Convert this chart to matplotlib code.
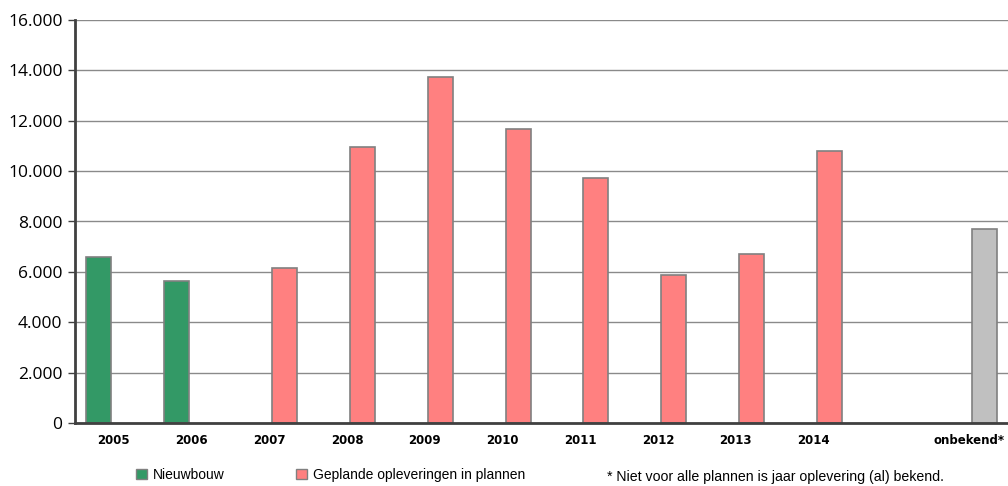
import numpy as np
import matplotlib.pyplot as plt
from matplotlib.patches import Patch

# categories along the x axis (one empty slot before "onbekend*")
categories = ['2005', '2006', '2007', '2008', '2009', '2010', '2011',
              '2012', '2013', '2014', '', 'onbekend*']
nieuwbouw = [6600, 5640, np.nan, np.nan, np.nan, np.nan, np.nan,
             np.nan, np.nan, np.nan, np.nan, np.nan]
gepland = [np.nan, np.nan, 6170, 10970, 13740, 11680, 9740,
           5870, 6700, 10810, np.nan, 7720]
gepland_colors = ['#FF8080'] * 11 + ['#C0C0C0']

green = '#339966'
edge = '#808080'

fig = plt.figure(figsize=(10.08, 4.86), dpi=100)
ax = fig.add_axes([75 / 1008, 1 - 423 / 486, 1 - 75 / 1008, 403 / 486])

x = np.arange(len(categories))
w = 0.32
ax.bar(x - 0.2, nieuwbouw, width=w, color=green, edgecolor=edge, linewidth=1.2, zorder=3)
ax.bar(x + 0.2, gepland, width=w, color=gepland_colors, edgecolor=edge, linewidth=1.2, zorder=3)

ax.set_xlim(-0.5, len(categories) - 0.5)
ax.set_ylim(0, 16000)
ax.set_yticks(np.arange(0, 16001, 2000))
ax.set_yticklabels(['0' if v == 0 else f'{v // 1000}.000' for v in range(0, 16001, 2000)],
                   fontfamily='Open Sans', fontsize=12.5, color='black')
ax.set_xticks(x)
ax.set_xticklabels(categories, fontfamily='DejaVu Sans', fontweight='bold', fontsize=8.5)
ax.tick_params(axis='x', length=0, pad=8)
ax.tick_params(axis='y', length=5, width=1, color='#404040', pad=4)

ax.grid(axis='y', color='#8a8a8a', linewidth=1, zorder=0)
for s in ['top', 'right']:
    ax.spines[s].set_visible(False)
for s in ['left', 'bottom']:
    ax.spines[s].set_color('#404040')
    ax.spines[s].set_linewidth(2)
ax.spines['bottom'].set_zorder(4)

legend_font = {'family': 'Liberation Sans', 'size': 10}
leg1 = fig.legend(handles=[Patch(facecolor=green, edgecolor=edge, label='Nieuwbouw')],
                  loc='center left', bbox_to_anchor=(136 / 1008, 1 - 475 / 486),
                  frameon=False, prop=legend_font, handlelength=0.8, handleheight=0.8,
                  handletextpad=0.4, borderpad=0, borderaxespad=0)
leg2 = fig.legend(handles=[Patch(facecolor='#FF8080', edgecolor=edge,
                                 label='Geplande opleveringen in plannen')],
                  loc='center left', bbox_to_anchor=(296 / 1008, 1 - 475 / 486),
                  frameon=False, prop=legend_font, handlelength=0.8, handleheight=0.8,
                  handletextpad=0.4, borderpad=0, borderaxespad=0)
fig.text(607 / 1008, 1 - 477 / 486, '* Niet voor alle plannen is jaar oplevering (al) bekend.',
         fontfamily='Liberation Sans', fontsize=10.2, va='center', ha='left')

fig.savefig('out.png', dpi=100)
